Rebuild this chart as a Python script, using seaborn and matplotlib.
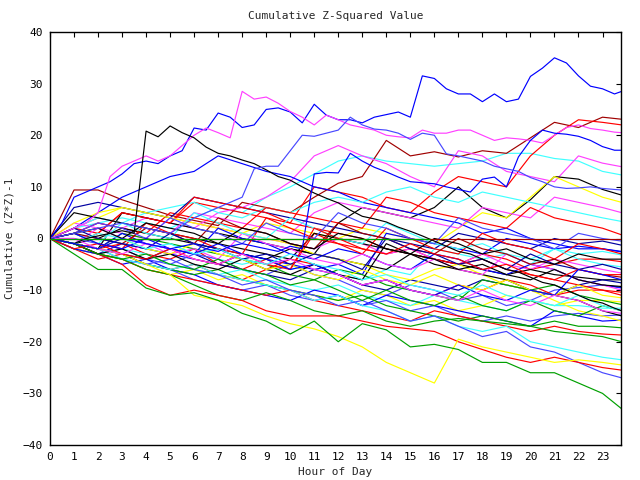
import matplotlib
matplotlib.use("Agg")
import matplotlib.pyplot as plt
import seaborn as sns
import pandas as pd

# ---------------- data ----------------
TITLE = "Cumulative Z-Squared Value"
XLABEL = "Hour of Day"
YLABEL = "Cumulative (Z*Z)-1"
X_TICKS = list(range(24))
Y_TICKS = [-40, -30, -20, -10, 0, 10, 20, 30, 40]

HOURS_HALF = [i / 2 for i in range(48)] + [23.8]
HOURS = list(range(24)) + [23.8]

# prominent walks (half-hour readings)
blue_top = [0, 3, 8, 9, 10, 11, 12.5, 14.5, 15, 14.5, 16, 17, 21.4, 21, 24.3, 23.5,
            21.5, 22, 25, 25.3, 24.5, 22.4, 26, 23.9, 23, 23, 22.4, 23.5, 24, 24.5,
            23.5, 31.5, 31, 29, 28, 28, 26.5, 28, 26.5, 27, 31.4, 33, 35, 34, 31.5,
            29.5, 29, 28, 28.5]
magenta_top = [0, 1, 2, 3, 5, 12, 14, 15, 16, 15, 16, 18, 20, 21.4, 20.5, 19.5,
               28.5, 27, 27.4, 26.2, 24.6, 23.5, 22, 23.9, 23, 22, 21.5, 21, 20,
               19.7, 19.5, 21, 20.4, 20.4, 21, 21, 20, 19, 19.5, 19.3, 19, 18.5,
               20, 21.5, 22, 21.3, 21, 20.6, 20.5]
black_jump = [0, -0.5, -1, 0, 0.5, 1, 1.5, 1, 20.8, 19.7, 21.8, 20.5, 19.5, 17.7,
              16.5, 16, 15.2, 14.5, 13.3, 12, 11.3, 10, 8.8, 7.8, 6.9, 5.5, 4.3,
              3.8, 3.2, 2.2, 1.4, 0.5, -0.5, -1.5, -2.5, -3, -4, -5, -6, -6.5,
              -7.5, -8.5, -9, -10, -11, -12, -12.5, -13.5, -14]
blue_mid = [0, -0.5, -1, -1.5, -2, -1, 0, -0.5, -1, -1.5, -2, -1.5, -1, -2, -2.5,
            -1.5, -1, -1.5, -2, -2.5, -1.5, -2, 12.5, 12.8, 12.7, 16.5, 15, 13.8,
            12.9, 11.9, 11, 10.8, 10.6, 10, 9.5, 9, 11.5, 11.9, 10, 15.8, 19, 21,
            20.4, 20.2, 19.8, 19, 17.8, 17.1, 17.1]
lightblue_mid = [0, 0.5, 1, 1.5, 2, 2.5, 3, 2.5, 2, 1.5, 1, 2.5, 4, 5, 6, 7, 8,
                 13.5, 14, 14, 17, 20, 19.8, 20.4, 21, 23.5, 22, 21.2, 21, 20.4,
                 19.2, 20.4, 20, 16.4, 16, 15.5, 15, 14, 13.5, 13, 11.8, 11, 10,
                 9.7, 9.8, 10, 9.7, 9.5, 9.4]

# other walks (hourly readings)
cyan_high = [0, 2, 3, 4, 3, 2, 4, 6, 5, 8, 10, 12.5, 15, 16, 15, 14.5, 14, 14.5,
             15, 16.5, 16.5, 15.5, 15, 13, 12.3]
darkred_high = [0, 9.4, 9.4, 7.5, 6, 4.5, 3.5, 2.5, 7, 6, 5, 8, 10.7, 12, 19, 16,
                16.8, 15.8, 17, 16.5, 19.5, 22.5, 21.5, 23.5, 23.1]
red_high = [0, -1, 1, 5, 4, 3, 7, 6, 5, 4, 3, 10, 9, 8, 6, 5, 9, 12, 11, 10, 16,
            20, 23, 22.5, 22]
magenta_mid = [0, 1, 3, 2, 4, 3, 2, 5, 6, 8, 11, 16, 18, 16, 14.5, 12, 10, 17,
               16, 13, 12, 11, 16, 14.6, 13.9]
black_late = [0, -1, -2, 5, 4, 3, 2, 1, 0, -1, -2, -3, 3, 6, 5, 4, 6, 10, 6, 4,
              7.5, 12, 11.5, 9.5, 8.4]
yellow_late = [0, 2, 4, 6, 5, 4, 3, 2, 1, 3, 2, 1, 0, 2, 1, 0, -1, 2, 5, 4, 8,
               12, 10, 8, 7]
blue_early = [0, 2, 5, 8, 10, 12, 13, 16, 14.5, 13, 12, 10, 9, 7, 6, 5, 4, 3, 1,
              2, 0, -1, -2, -2, -2.5]
magenta_b = [0, 2, 4, 3, 2, 1, 5, 4, 3, 2, 1, 5, 7, 6, 5, 4, 3, 2, 6, 5, 4, 8,
             7, 6, 5]
cyan_b = [0, 2, 4, 3, 5, 6, 7, 5, 4, 6, 5, 7, 8, 7, 9, 10, 8, 7, 9, 8, 7, 6, 5,
          4, 3.3]
red_a = [0, 1, 3, 2, 1, 5, 4, 3, 2, 6, 5, 4, 3, 2, 8, 7, 5, 4, 3, 2, 6, 4, 3, 2,
         0.7]
navy_a = [0, 6, 7, 6, 5, 4, 8, 7, 6, 5, 4, 3, 2, 1, 0, -1, -2, 1, 0, -1, -2, 0,
          -1, -0.5, -1.3]
blue_a = [0, -2, -3, -1, -2, -3, -4, -5, -3, -4, -5, -6, -5, -7, 1, 0, -1, -2,
          -3, 0, -1, -2, -1.5, -2, -2.6]
cyan_a = [0, 1, 0, -1, -2, -1, -3, -4, -5, -4, -6, -5, -7, -8, -6, -7, -2, -3,
          -4, -3, -5, -2, -3, -2.5, -3.2]
red_b = [0, -1, -2, -1, -3, -4, -2, -5, -6, -4, -6, 1, -1, -2, -3, -2, -4, -5,
         -3, -4, -6, -5, -4, -4, -4.5]
magenta_a = [0, 3, 2, 1, 0, 4, 3, 2, 1, 0, -1, -2, 0, -1, -3, -2, -4, -5, -3,
             -5, -6, -4, -5, -6, -6.7]
black_a = [0, -1, 0, 2, 1, 0, -1, -2, -3, -4, -2, -3, -4, -5, -6, -3, -4, -5,
           -6, -7, -6, -7, -7.5, -8, -8]
navy_b = [0, -1, -2, -3, -4, -2, -3, -5, -6, -7, -8, -6, -7, -9, -10, -8, -9,
          -10, -8, -9, -10, -11, -9, -8, -8.6]
lightblue_a = [0, 0, -1, -2, -4, -5, -3, -4, -6, -7, -5, -7, -8, -10, -11, -9,
               -10, -12, -11, -13, -12, -10, -9.5, -9, -9.6]
red_c = [0, -2, -4, -3, -5, -6, -5, -7, -8, -6, -4, -5, -7, -9, -8, -10, -11,
         -9, -10, -8, -9, -11, -10, -10, -10.4]
yellow_a = [0, -2, -3, -4, -6, -7, -6, -8, -7, -9, -10, -11, -12, -10, -11, -13,
            -12, -14, -13, -11, -12, -13, -12, -12, -12.3]
cyan_c = [0, -1, -3, -2, -3, -5, -6, -7, -6, -8, -9, -10, -9, -11, -12, -13, -11,
          -12, -13, -14, -12, -13, -13, -13.5, -13.5]
lightblue_b = [0, -1, -2, -4, -5, -6, -8, -9, -10, -9, -11, -12, -11, -13, -12,
               -14, -13, -15, -16, -15, -16, -15, -14.5, -15, -14.8]
blue_b = [0, -2, -3, -5, -4, -6, -7, -9, -10, -11, -12, -10, -11, -13, -11, -12,
          -13, -14, -15, -16, -17, -14, -15, -16, -15.8]
green_a = [0, -1, -2, -3, -5, -6, -7, -6, -8, -9, -10, -11, -12, -11, -13, -14,
           -15, -16, -15, -16, -17, -16, -17, -17, -17.3]
red_d = [0, -1, -3, -4, -6, -7, -8, -9, -10, -11, -10, -12, -13, -14, -15, -16,
         -14, -15, -16, -17, -18, -17, -18, -18.5, -18.7]
cyan_d = [0, -1, -2, -4, -5, -6, -5, -7, -8, -9, -10, -12, -11, -13, -14, -16,
          -15, -17, -18, -17, -20, -21, -22, -23, -23.5]
lightblue_c = [0, -1, -2, -3, -5, -4, -6, -7, -9, -8, -10, -11, -13, -12, -14,
               -16, -15, -17, -19, -18, -21, -22, -24, -26, -27]
green_b = [0, -1, -3, -4, -6, -7, -9, -11, -12, -10.5, -12, -14, -15, -14, -16,
           -17, -16, -15.5, -16, -16.5, -17, -18, -18.5, -19, -20]
red_low = [0, -1, -3, -5, -9, -11, -10, -11, -12, -14, -15, -15, -15, -16, -17,
           -17.5, -18, -20, -21.5, -23, -24, -23, -24, -25, -25.5]
yellow_low = [0, -1, -2, -3, -5, -7, -11, -12, -13, -15, -16.5, -17.5, -19, -21,
              -24, -26, -28, -19.5, -21, -22, -23, -24, -23.5, -24, -24.5]
green_low = [0, -3, -6, -6, -9.6, -11, -10.5, -12, -14.5, -16, -18.5, -16, -20,
             -16.5, -17.7, -21, -20.5, -21.5, -24, -24, -26, -26, -28, -30, -33]
red_e = [0, 2, 1, 5, 4, 3, 8, 7, 6, 5, 3, 2, 1, 0, -2, -3, -4, -5, -4, -6, -7,
         -8, -9, -10, -11]
yellow_b = [0, 3, 5, 6, 5, 4, 3, 2, 1, 0, -1, -3, -4, -5, -7, -8, -6, -5, -7, -9,
            -10, -12, -14, -15, -16]
black_b = [0, 5, 4, 3, 2, 1, 0, -1, -2, -3, -4, 1, 0, -1, -2, -3, -5, -6, -7, -8,
           -10, -11, -12, -14, -15]
green_c = [0, -1, -2, 1, 0, -1, -2, -3, -4, -5, -7, -8, -6, -7, -9, -10, -11, -12,
           -8, -9, -10, -9, -11, -12, -12.8]
blue_c = [0, -1, -2, 1, -1, -2, -3, 2, 0, -1, -3, -4, -2, -3, -5, -6, -3, -4, -6,
          -7, -5, -6, -8, -9, -9.5]
red_f = [0, 1, -1, -2, 3, 1, 0, -2, -3, 4, 2, 0, -1, -3, 2, 0, -2, -3, 1, -1, -2,
         -4, -1, -2, -3]
magenta_c = [0, -1, 2, 0, -1, -3, -2, -4, 1, -1, -2, -4, -5, -3, -5, -6, -4, -6,
             -7, -3, -5, -6, -8, -9, -10]
cyan_e = [0, 1, -1, 3, 1, 0, 5, 3, 1, 0, 4, 2, 0, -1, 3, 1, -1, -2, -1, -3, -4,
          -2, -4, -5, -5.5]
black_c = [0, -1, -3, -2, -4, -3, -5, -6, -4, -6, -7, -5, -7, -8, -1, -3, -4, -6,
           -5, -7, -8, -6, -8, -9, -9.3]
darkred_a = [0, 1, 0, -1, 2, 1, -1, 4, 2, 1, -1, -2, 3, 1, 0, -2, -3, 0, -2, -3,
             -5, -4, -6, -7, -7.5]
yellow_c = [0, -1, -2, 0, -2, -3, -1, -3, -4, -6, -5, -7, -8, -6, -8, -9, -7, -9,
            -10, -8, -10, -11, -9, -11, -11.5]
green_d = [0, -1, -3, -4, -3, -5, -6, -4, -6, -7, -9, -8, -10, -12, -10, -12,
           -13, -11, -13, -14, -12, -14, -15, -13, -14]
navy_c = [0, 2, 0, -1, -2, 1, -1, -2, -4, -3, -5, -3, -4, -6, 0, -2, -3, -5, -4,
          -6, -3, -5, -6, -5, -6]
lightblue_d = [0, 1, 3, 2, 0, 4, 2, 1, -1, 3, 1, 0, 5, 3, 2, 0, -1, 4, 2, 1, 0,
               -2, 1, 0, -0.5]
red_g = [0, -2, -1, -3, -4, -2, -4, -5, -3, -5, -6, 2, 0, -2, -3, -1, -3, -4, -6,
         -5, -7, -8, -6, -7, -7]
blue_d = [0, 1, -1, -2, 0, -2, -3, -1, -3, -4, -6, -5, -7, -9, -8, -10, -11, -9,
          -11, -12, -10, -11, -6, -7, -8]
magenta_d = [0, 0, -2, -3, -1, -2, -4, -5, -3, -5, -4, -6, -7, -9, -8, -10, -11,
             -12, -10, -12, -13, -11, -12, -14, -14.5]
cyan_f = [0, -1, 1, 0, -2, -1, -3, -2, -4, -5, -3, -5, -6, -8, -7, -9, -10, -11,
          -9, -11, -12, -13, -11, -13, -14]
black_d = [0, 1, 2, 0, 3, 2, 1, -1, 2, 1, -1, -2, 1, 0, -2, -3, 0, -1, -3, -2,
           -4, -5, -3, -4, -4]

# ---------------- styles ----------------
C = {"r": "#ff0000", "g": "#00a000", "b": "#0000ff", "m": "#ff40ff",
     "c": "#40ffff", "y": "#ffff00", "k": "#000000", "dr": "#a00000",
     "db": "#0000a0", "lb": "#4848ff"}

half_series = [("blue_top", blue_top, "b"), ("magenta_top", magenta_top, "m"),
               ("black_jump", black_jump, "k"), ("blue_mid", blue_mid, "b"),
               ("lightblue_mid", lightblue_mid, "lb")]
hour_series = [("cyan_high", cyan_high, "c"), ("darkred_high", darkred_high, "dr"),
               ("red_high", red_high, "r"), ("magenta_mid", magenta_mid, "m"),
               ("black_late", black_late, "k"), ("yellow_late", yellow_late, "y"),
               ("blue_early", blue_early, "b"), ("magenta_b", magenta_b, "m"),
               ("cyan_b", cyan_b, "c"), ("red_a", red_a, "r"), ("navy_a", navy_a, "db"),
               ("blue_a", blue_a, "b"), ("cyan_a", cyan_a, "c"), ("red_b", red_b, "r"),
               ("magenta_a", magenta_a, "m"), ("black_a", black_a, "k"),
               ("navy_b", navy_b, "db"), ("lightblue_a", lightblue_a, "lb"),
               ("red_c", red_c, "r"), ("yellow_a", yellow_a, "y"), ("cyan_c", cyan_c, "c"),
               ("lightblue_b", lightblue_b, "lb"), ("blue_b", blue_b, "b"),
               ("green_a", green_a, "g"), ("red_d", red_d, "r"), ("cyan_d", cyan_d, "c"),
               ("lightblue_c", lightblue_c, "lb"), ("green_b", green_b, "g"),
               ("red_low", red_low, "r"), ("yellow_low", yellow_low, "y"),
               ("green_low", green_low, "g"), ("red_e", red_e, "r"),
               ("yellow_b", yellow_b, "y"), ("black_b", black_b, "k"),
               ("green_c", green_c, "g"), ("blue_c", blue_c, "b"), ("red_f", red_f, "r"),
               ("magenta_c", magenta_c, "m"), ("cyan_e", cyan_e, "c"),
               ("black_c", black_c, "k"), ("darkred_a", darkred_a, "dr"),
               ("yellow_c", yellow_c, "y"), ("green_d", green_d, "g"),
               ("navy_c", navy_c, "db"), ("lightblue_d", lightblue_d, "lb"),
               ("red_g", red_g, "r"), ("blue_d", blue_d, "b"),
               ("magenta_d", magenta_d, "m"), ("cyan_f", cyan_f, "c"),
               ("black_d", black_d, "k")]

rows = []
palette = {}
order = []
for name, vals, col in hour_series + half_series:
    hrs = HOURS_HALF if len(vals) == len(HOURS_HALF) else HOURS
    for h, v in zip(hrs, vals):
        rows.append({"series": name, "hour": h, "value": v})
    palette[name] = C[col]
    order.append(name)
df = pd.DataFrame(rows)

# ---------------- plot ----------------
sns.set_style("white")
plt.rcParams["font.family"] = ["DejaVu Sans Mono"]
plt.rcParams["font.size"] = 8

fig = plt.figure(figsize=(6.4, 4.8), dpi=100)
ax = fig.add_axes([50 / 640, 1 - 445 / 480, 571 / 640, 413 / 480])

sns.lineplot(data=df, x="hour", y="value", hue="series", hue_order=order,
             palette=palette, estimator=None, sort=False, legend=False,
             linewidth=0.85, ax=ax)

ax.axhline(0, color=C["dr"], linewidth=0.85, zorder=3)
ax.hlines(0, 0, 15.8, color=C["g"], linewidth=0.85, zorder=3)

ax.set_xlim(0, 23.77)
ax.set_ylim(-40, 40)
ax.set_xticks(X_TICKS)
ax.set_yticks(Y_TICKS)
ax.tick_params(direction="in", length=3.6, width=0.8, top=True, right=True,
               labelsize=8, pad=5, colors="black")
for s in ax.spines.values():
    s.set_color("black")
    s.set_linewidth(1.0)

ax.set_xlabel(XLABEL, fontsize=8)
ax.set_ylabel(YLABEL, fontsize=8)
ax.xaxis.set_label_coords(0.5, (445 - 472) / 413)
ax.xaxis.label.set_va("center")
ax.yaxis.set_label_coords((10 - 50) / 571, 0.5)
ax.yaxis.label.set_va("center")
fig.text(335.5 / 640, 1 - 16 / 480, TITLE, ha="center", va="center", fontsize=8)

fig.savefig("out.png", dpi=100)
